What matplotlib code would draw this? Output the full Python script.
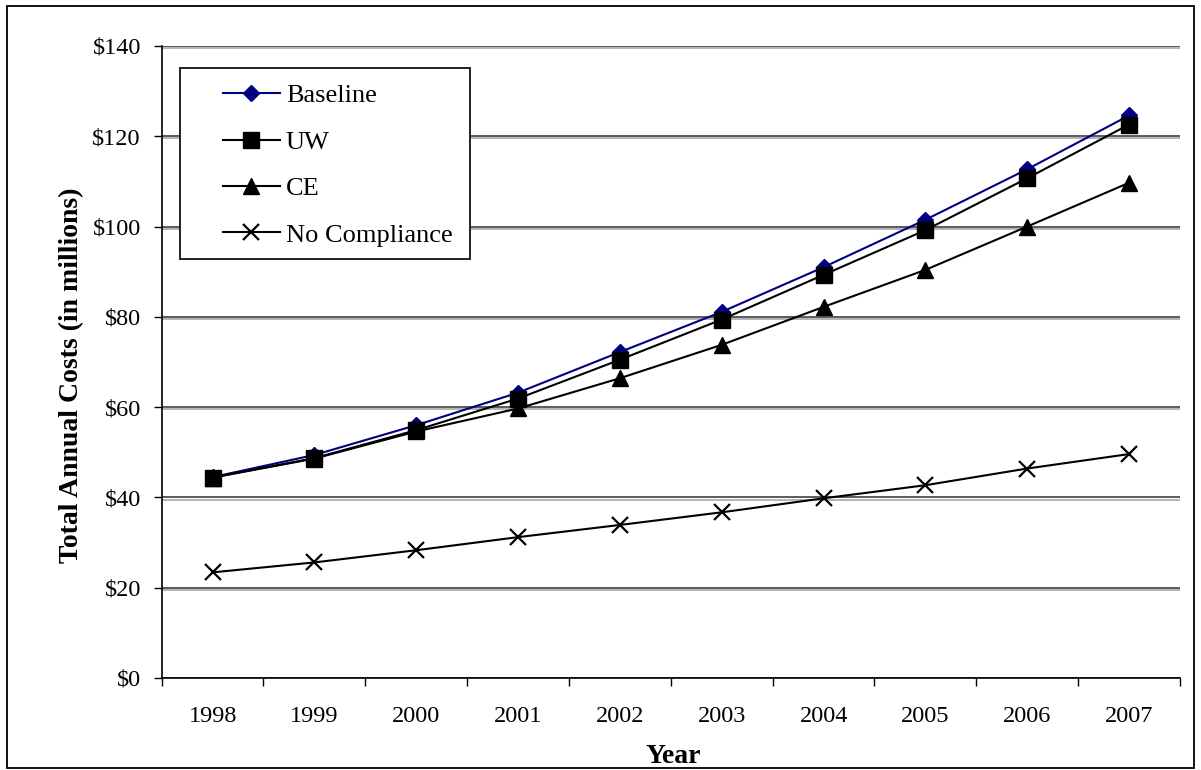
import matplotlib
matplotlib.use("Agg")
import matplotlib.pyplot as plt
import matplotlib.patheffects as pe
from matplotlib.ticker import FixedLocator, FuncFormatter

# ======================
# |        DATA        |
# ======================
years = ["1998", "1999", "2000", "2001", "2002", "2003", "2004", "2005", "2006", "2007"]
baseline = [44.5, 49.4, 56.0, 63.2, 72.2, 81.1, 91.0, 101.5, 112.7, 124.6]
uw = [44.4, 48.7, 54.9, 61.9, 70.5, 79.4, 89.3, 99.2, 110.7, 122.6]
ce = [44.4, 48.6, 54.6, 59.7, 66.4, 73.8, 82.2, 90.4, 100.0, 109.7]
no_compliance = [23.4, 25.6, 28.3, 31.2, 33.9, 36.7, 39.8, 42.7, 46.4, 49.6]

# ======================
# |       STYLE        |
# ======================
plt.rcParams["font.family"] = ["Liberation Serif", "DejaVu Serif"]
TICK_FS = 17.5
LEG_FS = 19
LABEL_FS = 20

fig = plt.figure(figsize=(12.01, 7.70), dpi=100)
ax = fig.add_axes([0.1346, 0.1195, 0.8479, 0.8208])

x = list(range(len(years)))

# Series
ax.plot(x, baseline, color="#000080", lw=1.5, marker="D", ms=8,
        mfc="#000080", mec="#000080", label="Baseline", zorder=3)
ax.plot(x, uw, color="black", lw=1.5, marker="s", ms=11,
        mfc="black", mec="black", label="UW", zorder=4)
ax.plot(x, ce, color="black", lw=1.5, marker="^", ms=11,
        mfc="black", mec="black", label="CE", zorder=4)
ax.plot(x, no_compliance, color="black", lw=1.5, marker="x", ms=11,
        mew=1.6, label="No Compliance", zorder=4)

# Axes limits and ticks
ax.set_xlim(-0.5, len(years) - 0.5)
ax.set_ylim(0, 140)
ax.set_yticks(range(0, 141, 20))
ax.yaxis.set_major_formatter(FuncFormatter(lambda v, p: f"${v:.0f}"))
ax.set_xticks(x)
ax.set_xticklabels(years)
ax.xaxis.set_minor_locator(FixedLocator([i - 0.5 for i in range(len(years) + 1)]))
ax.tick_params(axis="x", which="major", length=0, pad=20, labelsize=TICK_FS)
ax.tick_params(axis="x", which="minor", length=6, width=1, direction="out")
ax.tick_params(axis="y", length=6, width=1, direction="out", pad=9, labelsize=TICK_FS)

for side in ["top", "right"]:
    ax.spines[side].set_visible(False)
ax.spines["left"].set_linewidth(1.2)
ax.spines["bottom"].set_linewidth(1.2)

# Excel style double gridlines
ax.yaxis.grid(True, color="#404040", lw=1.2)
ax.set_axisbelow(True)
for gl in ax.get_ygridlines():
    gl.set_path_effects([pe.SimpleLineShadow(offset=(0, -1.6), shadow_color="#a8a8a8", alpha=1.0),
                         pe.Normal()])

# Axis titles
ax.set_ylabel("Total Annual Costs (in millions)", fontsize=LABEL_FS, fontweight="bold")
ax.yaxis.set_label_coords(-0.076, 0.479)
ax.set_xlabel("Year", fontsize=LABEL_FS, fontweight="bold")
ax.xaxis.set_label_coords(0.502, -0.125)
ax.xaxis.label.set_verticalalignment("center")

# Legend: box drawn separately so the padding matches the Excel look
frame = plt.Rectangle((0.018, 0.6625), 0.2848, 0.3022, transform=ax.transAxes,
                      facecolor="white", edgecolor="#202020", lw=1.4, zorder=5)
ax.add_patch(frame)
leg = ax.legend(loc="upper left", bbox_to_anchor=(0.0599, 0.940), borderaxespad=0,
                borderpad=0, fontsize=LEG_FS, frameon=False, handlelength=2.16,
                handletextpad=0.23, labelspacing=0.87)
leg.set_zorder(6)

# Figure border
fig.add_artist(plt.Rectangle((7 / 1201, 2 / 770), 1187 / 1201, 762 / 770,
                             transform=fig.transFigure, fill=False,
                             edgecolor="black", lw=1.3))

fig.savefig("out.png", dpi=100)
